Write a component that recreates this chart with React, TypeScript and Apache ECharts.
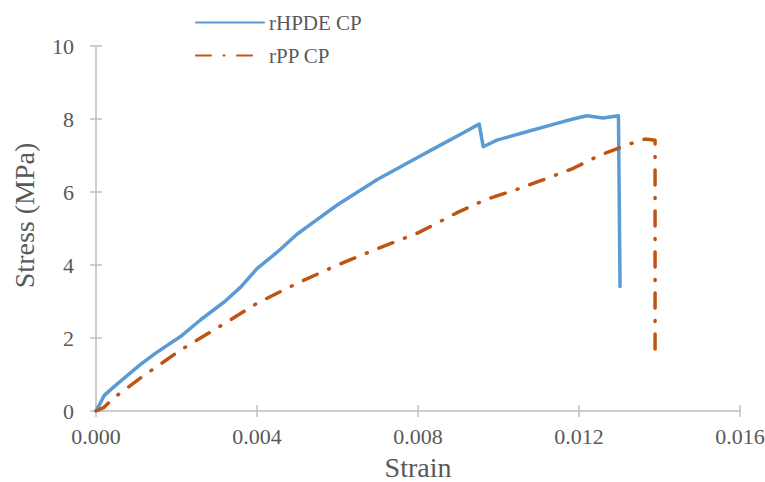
import React, { useEffect, useRef } from "react";
import * as echarts from "echarts";

const hdpeStrain = [0, 0.0001, 0.0002, 0.0004, 0.0007, 0.0011, 0.0015, 0.0021, 0.0026, 0.0032, 0.0036, 0.004, 0.0045, 0.005, 0.0055, 0.006, 0.0065, 0.007, 0.0075, 0.008, 0.0085, 0.009, 0.00952, 0.00962, 0.00996, 0.0107, 0.01145, 0.01185, 0.01219, 0.0126, 0.01298, 0.01302];
const hdpeStress = [0, 0.2, 0.42, 0.62, 0.9, 1.27, 1.6, 2.04, 2.5, 3.0, 3.4, 3.9, 4.35, 4.85, 5.25, 5.65, 6.0, 6.35, 6.65, 6.95, 7.25, 7.55, 7.86, 7.24, 7.42, 7.65, 7.88, 8.0, 8.09, 8.03, 8.09, 3.41];

const ppStrain = [0, 0.0002, 0.00043, 0.0011, 0.0021, 0.0032, 0.004, 0.005, 0.006, 0.007, 0.008, 0.009, 0.0097, 0.01045, 0.0111, 0.01186, 0.01252, 0.01327, 0.01364, 0.01389, 0.01389];
const ppStress = [0, 0.1, 0.35, 0.9, 1.67, 2.4, 2.95, 3.5, 4.0, 4.45, 4.88, 5.45, 5.8, 6.07, 6.33, 6.65, 7.01, 7.32, 7.45, 7.42, 1.49];

const xTicks = { min: 0, max: 0.016, interval: 0.004 };
const yTicks = { min: 0, max: 10, interval: 2 };

const FONT = "'Liberation Serif', serif";
const TXT = "#595959";
const AXIS = "#BFBFBF";

export default function App() {
  const ref = useRef<HTMLDivElement>(null);
  useEffect(() => {
    if (!ref.current) return;
    const chart = echarts.init(ref.current, null, { renderer: "svg" });
    const zip = (a: number[], b: number[]) => a.map((v, i) => [v, b[i]]);
    const baseX = {
      type: "value",
      gridIndex: 0,
      position: "bottom",
      min: xTicks.min,
      max: xTicks.max,
      interval: xTicks.interval,
      splitLine: { show: false },
    };
    const baseY = {
      type: "value",
      gridIndex: 0,
      position: "left",
      min: yTicks.min,
      max: yTicks.max,
      interval: yTicks.interval,
      splitLine: { show: false },
    };
    chart.setOption({
      animation: false,
      backgroundColor: "#ffffff",
      textStyle: { fontFamily: FONT },
      grid: {
        left: 96,
        width: 644,
        top: 46,
        height: 365,
        containLabel: false,
        outerBoundsMode: "none",
      },
      legend: {
        left: 190,
        top: 7,
        orient: "vertical",
        itemWidth: 68,
        itemHeight: 14,
        itemGap: 12,
        itemStyle: { opacity: 0 },
        textStyle: { fontFamily: FONT, fontSize: 21, color: TXT },
        data: ["rHPDE CP", "rPP CP"],
      },
      xAxis: [
        {
          ...baseX,
          name: "Strain",
          nameLocation: "middle",
          nameGap: 42,
          nameTextStyle: { fontFamily: FONT, fontSize: 28, color: TXT, lineHeight: 28 },
          axisLine: { show: true, lineStyle: { color: AXIS, width: 1.5 } },
          axisTick: { show: true, length: 6, lineStyle: { color: AXIS, width: 1.5 } },
          axisLabel: {
            margin: 14,
            fontFamily: FONT,
            fontSize: 22,
            color: TXT,
            formatter: (v: number) => v.toFixed(3),
          },
        },
        {
          ...baseX,
          axisLine: { show: false },
          axisTick: { show: true, inside: true, length: 6, lineStyle: { color: AXIS, width: 1.5 } },
          axisLabel: { show: false },
        },
      ],
      yAxis: [
        {
          ...baseY,
          name: "Stress (MPa)",
          nameLocation: "middle",
          nameGap: 58,
          nameRotate: 90,
          nameTextStyle: { fontFamily: FONT, fontSize: 28, color: TXT, padding: [0, 0, 0, 26] },
          axisLine: { show: true, lineStyle: { color: AXIS, width: 1.5 } },
          axisTick: { show: true, length: 6, lineStyle: { color: AXIS, width: 1.5 } },
          axisLabel: { margin: 22, fontFamily: FONT, fontSize: 22, color: TXT },
        },
        {
          ...baseY,
          axisLine: { show: false },
          axisTick: { show: true, inside: true, length: 6, lineStyle: { color: AXIS, width: 1.5 } },
          axisLabel: { show: false },
        },
      ],
      series: [
        {
          name: "rHPDE CP",
          type: "line",
          xAxisIndex: 0,
          yAxisIndex: 0,
          data: zip(hdpeStrain, hdpeStress),
          showSymbol: false,
          symbol: "none",
          itemStyle: { color: "#5B9BD5" },
          lineStyle: { color: "#5B9BD5", width: 3.5, cap: "round", join: "round" },
        },
        {
          name: "rPP CP",
          type: "line",
          xAxisIndex: 0,
          yAxisIndex: 0,
          data: zip(ppStrain, ppStress),
          showSymbol: false,
          symbol: "none",
          itemStyle: { color: "#BF5413" },
          lineStyle: {
            color: "#BF5413",
            width: 3.5,
            type: [15, 12.5, 1, 12.5],
            cap: "round",
            join: "round",
          },
        },
      ],
    });
    return () => chart.dispose();
  }, []);
  return (
    <div
      ref={ref}
      style={{ position: "fixed", left: 0, top: 0, width: 765, height: 482, background: "#fff" }}
    />
  );
}
